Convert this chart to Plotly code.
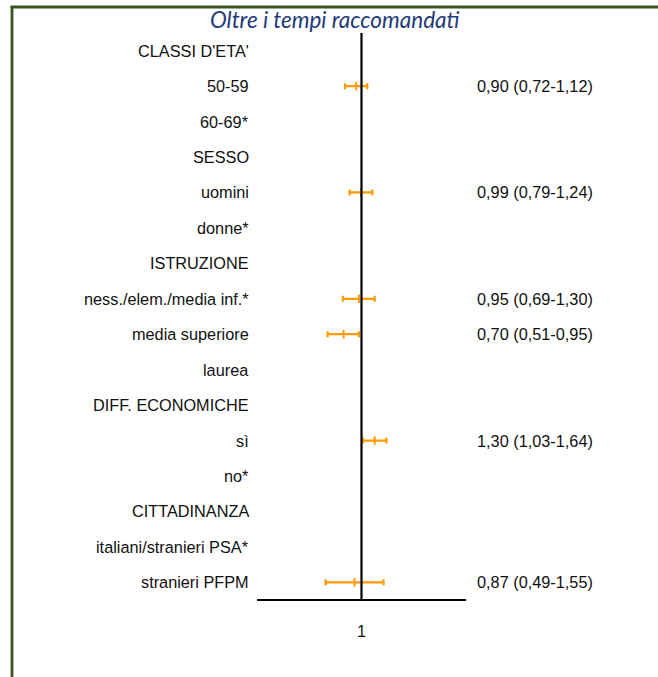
import plotly.graph_objects as go

labels = ["CLASSI D'ETA'", "50-59", "60-69*", "SESSO", "uomini", "donne*",
          "ISTRUZIONE", "ness./elem./media inf.*", "media superiore", "laurea",
          "DIFF. ECONOMICHE", "sì", "no*", "CITTADINANZA",
          "italiani/stranieri PSA*", "stranieri PFPM"]
odds = [None, 0.90, None, None, 0.99, None, None, 0.95, 0.70, None, None, 1.30, None, None, None, 0.87]
ci_low = [None, 0.72, None, None, 0.79, None, None, 0.69, 0.51, None, None, 1.03, None, None, None, 0.49]
ci_high = [None, 1.12, None, None, 1.24, None, None, 1.30, 0.95, None, None, 1.64, None, None, None, 1.55]
tick_vals = [1]
tick_text = ["1"]

W, H = 658, 677
L, R, T, B = 257, 466, 33, 600

def px(x):
    return (x - L) / (R - L)

def py(y):
    return (B - y) / (B - T)

def fmt(v):
    return f"{v:.2f}".replace(".", ",")

FONT = "Liberation Sans"
FS = 16.3
xs, ys, ep, em = [], [], [], []
for i, (o, lo, hi) in enumerate(zip(odds, ci_low, ci_high)):
    if o is not None:
        xs.append(o); ys.append(i); ep.append(hi - o); em.append(o - lo)

fig = go.Figure()
fig.add_trace(go.Scatter(
    x=xs, y=ys, mode="markers",
    marker=dict(symbol="line-ns", size=6, line=dict(color="#FF9900", width=2), color="#FF9900"),
    error_x=dict(type="data", symmetric=False, array=ep, arrayminus=em,
                 color="#FF9900", thickness=2.2, width=3),
    showlegend=False, hoverinfo="skip"))

annotations = []
for i, lab in enumerate(labels):
    annotations.append(dict(text=lab, xref="paper", yref="y", x=px(251), y=i,
                            xanchor="right", yanchor="middle", showarrow=False,
                            font=dict(family=FONT, size=FS, color="#111111")))
    if odds[i] is not None:
        annotations.append(dict(text=f"{fmt(odds[i])} ({fmt(ci_low[i])}-{fmt(ci_high[i])})",
                                xref="paper", yref="y", x=px(475), y=i,
                                xanchor="left", yanchor="middle", showarrow=False,
                                font=dict(family=FONT, size=FS, color="#111111")))
for tv, tt in zip(tick_vals, tick_text):
    annotations.append(dict(text=tt, xref="x", yref="paper", x=0, y=py(631),
                            xanchor="center", yanchor="middle", showarrow=False,
                            font=dict(family=FONT, size=FS, color="#111111")))
annotations.append(dict(text="<i>Oltre i tempi raccomandati</i>", xref="paper", yref="paper",
                        x=px(335), y=py(19.5), xanchor="center", yanchor="middle",
                        showarrow=False,
                        font=dict(family="Lato", size=22.5, color="#1F3A7A")))

shapes = [
    dict(type="line", xref="x", yref="y", x0=1, x1=1, y0=-0.5, y1=len(labels) - 0.5,
         line=dict(color="black", width=2.2)),
    dict(type="line", xref="paper", yref="paper", x0=0, x1=1, y0=0, y1=0,
         line=dict(color="black", width=2.2)),
    dict(type="line", xref="paper", yref="paper", x0=px(12), x1=px(12), y0=py(6), y1=py(720),
         line=dict(color="#375623", width=2.8)),
    dict(type="line", xref="paper", yref="paper", x0=px(10.5), x1=px(720), y0=py(7), y1=py(7),
         line=dict(color="#375623", width=2.8)),
]

fig.update_layout(
    width=W, height=H,
    margin=dict(l=L, r=W - R, t=T, b=H - B),
    paper_bgcolor="white", plot_bgcolor="white",
    xaxis=dict(type="log", range=[-0.90309, 0.90309], showgrid=False, zeroline=False,
               showticklabels=False, showline=False, fixedrange=True),
    yaxis=dict(range=[len(labels) - 0.5, -0.5], showgrid=False, zeroline=False,
               showticklabels=False, showline=False, fixedrange=True),
    annotations=annotations, shapes=shapes,
)

fig.write_html("out.html", config={"displayModeBar": False},
               post_script="document.body.style.margin='0';document.body.style.overflow='hidden';")
